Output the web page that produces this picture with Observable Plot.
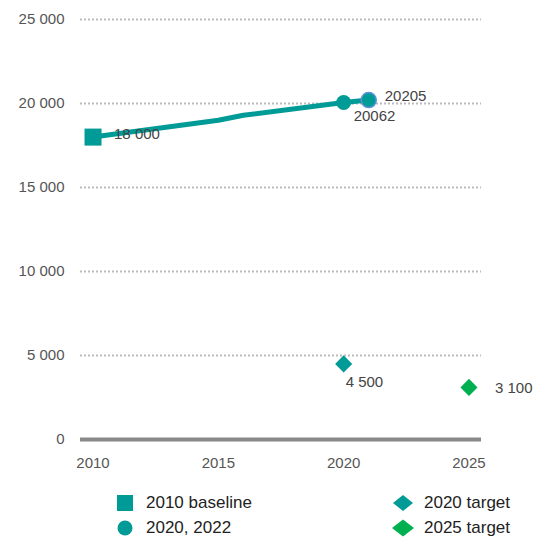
<!DOCTYPE html>
<html>
<head>
<meta charset="utf-8">
<script src="https://cdn.jsdelivr.net/npm/d3@7"></script>
<script src="https://cdn.jsdelivr.net/npm/@observablehq/plot@0.6"></script>
<style>
  body { margin: 0; background: #fff; font-family: "Liberation Sans", Arial, sans-serif; }
  #chart svg { display: block; }
  #legend { position: relative; height: 64px; width: 537px; font-size: 17px; color: #222; }
  .item { position: absolute; display: flex; align-items: center; height: 20px; }
  .item svg { width: 22px; height: 20px; margin-right: 10px; }
</style>
</head>
<body>
<div id="chart"></div>
<div id="legend"></div>
<script>
const lineYears = [2010, 2015, 2016, 2020, 2021];
const lineValues = [18000, 19000, 19300, 20062, 20205];
const baselineYear = [2010];
const baselineValue = [18000];
const actualYears = [2020, 2021];
const actualValues = [20062, 20205];
const actualLabels = ["20062", "20205"];
const targetYears = [2020, 2025];
const targetValues = [4500, 3100];
const targetNames = ["2020 target", "2025 target"];
const yTicks = [0, 5000, 10000, 15000, 20000, 25000];
const xTicks = [2010, 2015, 2020, 2025];
const legendNames = ["2010 baseline", "2020, 2022", "2020 target", "2025 target"];

const teal = "#009b96";
const green = "#00b050";
const fmt = v => d3.format(",")(v).replace(/,/g, " ");

const line = lineYears.map((y, i) => ({year: y, value: lineValues[i]}));
const base = baselineYear.map((y, i) => ({year: y, value: baselineValue[i]}));
const actual = actualYears.map((y, i) => ({year: y, value: actualValues[i], label: actualLabels[i]}));
const targets = targetYears.map((y, i) => ({year: y, value: targetValues[i], name: targetNames[i]}));

const chart = Plot.plot({
  width: 537,
  height: 478,
  marginLeft: 80,
  marginRight: 56,
  marginTop: 19,
  marginBottom: 39,
  style: {fontFamily: "Liberation Sans, Arial, sans-serif", fontSize: "15px", color: "#555"},
  x: {domain: [2009.5, 2025.5], ticks: xTicks, tickFormat: d => String(d), tickSize: 0, tickPadding: 18, label: null},
  y: {domain: [0, 25000], ticks: yTicks, tickFormat: fmt, tickSize: 0, tickPadding: 16, label: null},
  marks: [
    Plot.ruleY(yTicks.filter(d => d > 0), {stroke: "#bbb", strokeWidth: 2, strokeDasharray: "2,2"}),
    Plot.ruleY([0], {stroke: "#888", strokeWidth: 4}),
    Plot.line(line, {x: "year", y: "value", stroke: teal, strokeWidth: 5}),
    Plot.dot(base, {x: "year", y: "value", symbol: "square", r: 9.6, fill: teal}),
    Plot.dot(actual.slice(0, 1), {x: "year", y: "value", r: 7.5, fill: teal}),
    Plot.dot(actual.slice(1), {x: "year", y: "value", r: 7.5, fill: teal, stroke: "#5b8fd6", strokeWidth: 1.5}),
    Plot.dot(targets.slice(0, 1), {x: "year", y: "value", symbol: "diamond2", r: 7.7, fill: teal}),
    Plot.dot(targets.slice(1), {x: "year", y: "value", symbol: "diamond2", r: 7.7, fill: green}),
    Plot.text(base, {x: "year", y: "value", text: d => fmt(d.value), textAnchor: "start", dx: 21, dy: -3, fill: "#444"}),
    Plot.text(actual.slice(0, 1), {x: "year", y: "value", text: "label", textAnchor: "start", dx: 10, dy: 14, fill: "#444"}),
    Plot.text(actual.slice(1), {x: "year", y: "value", text: "label", textAnchor: "start", dx: 16, dy: -4, fill: "#444"}),
    Plot.text(targets.slice(0, 1), {x: "year", y: "value", text: d => fmt(d.value), textAnchor: "start", dx: 2, dy: 18, fill: "#444"}),
    Plot.text(targets.slice(1), {x: "year", y: "value", text: d => fmt(d.value), textAnchor: "start", dx: 26, dy: 1, fill: "#444"})
  ]
});
document.getElementById("chart").appendChild(chart);

const shapes = [
  `<rect x="3" y="2" width="16" height="16" fill="${teal}"/>`,
  `<circle cx="11" cy="10" r="7.5" fill="${teal}"/>`,
  `<path d="M11 2 L21 10 L11 18 L1 10 Z" fill="${teal}"/>`,
  `<path d="M11 1.5 L22 10 L11 18.5 L0 10 Z" fill="${green}"/>`
];
const pos = [[114, 25], [114, 50], [392, 25], [392, 50]];
const legend = document.getElementById("legend");
legendNames.forEach((n, i) => {
  const d = document.createElement("div");
  d.className = "item";
  d.style.left = pos[i][0] + "px";
  d.style.top = (pos[i][1] - 10) + "px";
  d.innerHTML = `<svg viewBox="0 0 22 20">${shapes[i]}</svg><span>${n}</span>`;
  legend.appendChild(d);
});
</script>
</body>
</html>
